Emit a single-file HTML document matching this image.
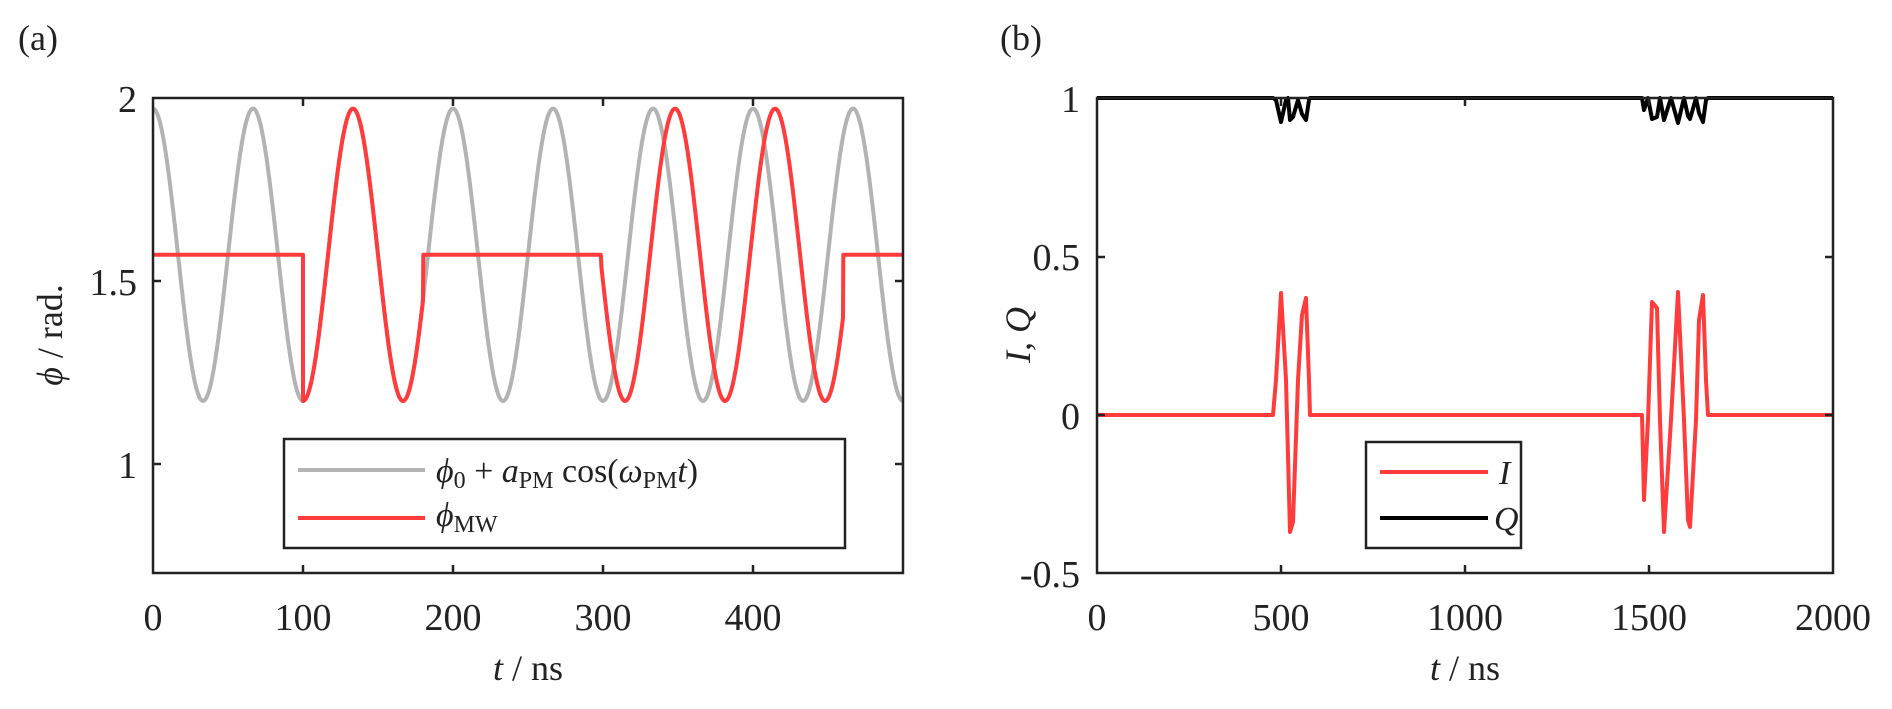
<!DOCTYPE html>
<html><head><meta charset="utf-8"><style>
html,body{margin:0;padding:0;background:#fff;}
svg{display:block;}
text{font-family:"Liberation Serif",serif;fill:#222;}
</style></head><body>
<svg id="s" width="1892" height="709" viewBox="0 0 1892 709" xmlns="http://www.w3.org/2000/svg">
<text x="18" y="50" font-size="36">(a)</text>
<text x="1000" y="50" font-size="36">(b)</text>

<!-- Panel a -->
<g id="pa"></g>
<g stroke="#222" stroke-width="2.5" fill="none">
<rect x="153" y="98" width="750" height="475"/>
<path d="M303,573v-8M453,573v-8M603,573v-8M753,573v-8M303,98v8M453,98v8M603,98v8M753,98v8
M153,464h8M153,281h8M903,464h-8M903,281h-8"/>
</g>
<g font-size="38" text-anchor="end">
<text x="137" y="112">2</text><text x="137" y="295">1.5</text><text x="137" y="478">1</text>
</g>
<g font-size="38" text-anchor="middle">
<text x="153" y="630">0</text><text x="303" y="630">100</text><text x="453" y="630">200</text><text x="603" y="630">300</text><text x="753" y="630">400</text>
</g>
<text x="528" y="680" font-size="36" text-anchor="middle"><tspan font-style="italic">t</tspan> / ns</text>
<text transform="translate(62,335) rotate(-90)" font-size="36" text-anchor="middle"><tspan font-style="italic">ϕ</tspan> / rad.</text>
<rect x="284" y="439" width="561" height="109" fill="#fff" stroke="#222" stroke-width="2.5"/>
<line x1="298" y1="470" x2="425" y2="470" stroke="#b3b3b3" stroke-width="4"/>
<line x1="298" y1="518" x2="425" y2="518" stroke="#ff3b3b" stroke-width="4"/>
<text x="436" y="482" font-size="34"><tspan font-style="italic">ϕ</tspan><tspan font-size="24" dy="6">0</tspan><tspan dy="-6"> + </tspan><tspan font-style="italic">a</tspan><tspan font-size="24" dy="6">PM</tspan><tspan dy="-6"> cos(</tspan><tspan font-style="italic">ω</tspan><tspan font-size="24" dy="6">PM</tspan><tspan dy="-6" font-style="italic">t</tspan>)</text>
<text x="436" y="526" font-size="34"><tspan font-style="italic">ϕ</tspan><tspan font-size="24" dy="6">MW</tspan></text>

<!-- Panel b -->
<g fill="none" stroke-width="4" stroke-linejoin="round">
<polyline stroke="#ff3b3b" points="1097,415 1273,415 1276,380 1281,293 1286,380 1290,532 1293,522 1298,380 1302,315 1306,298 1309,380 1310,415 1642,415 1644,500 1648,420 1652,302 1657,308 1660,420 1664,532 1671,420 1678,292 1684,420 1688,520 1690,527 1696,420 1699,320 1703,295 1706,380 1708,415 1833,415"/>
<polyline stroke="#000" points="1097,98 1273,98 1276,100 1281,122 1286,100 1288,98 1290,120 1293,117 1298,100 1302,114 1306,120 1309,100 1310,98 1642,98 1644,110 1648,98 1652,119 1657,117 1660,98 1664,120 1671,98 1678,123 1684,98 1688,116 1690,119 1696,98 1699,113 1703,122 1706,100 1708,98 1833,98"/>
</g>
<g stroke="#222" stroke-width="2.5" fill="none">
<rect x="1097" y="98" width="736" height="475"/>
<path d="M1281,573v-8M1465,573v-8M1649,573v-8M1281,98v8M1465,98v8M1649,98v8
M1097,415h8M1097,257h8M1833,415h-8M1833,257h-8"/>
</g>
<g font-size="38" text-anchor="end">
<text x="1080" y="112">1</text><text x="1080" y="270">0.5</text><text x="1080" y="429">0</text><text x="1080" y="587">-0.5</text>
</g>
<g font-size="38" text-anchor="middle">
<text x="1097" y="630">0</text><text x="1281" y="630">500</text><text x="1465" y="630">1000</text><text x="1649" y="630">1500</text><text x="1833" y="630">2000</text>
</g>
<text x="1465" y="680" font-size="36" text-anchor="middle"><tspan font-style="italic">t</tspan> / ns</text>
<text transform="translate(1030,335) rotate(-90)" font-size="36" text-anchor="middle" font-style="italic">I, Q</text>
<rect x="1366" y="442" width="155" height="106" fill="#fff" stroke="#222" stroke-width="2.5"/>
<line x1="1380" y1="472" x2="1488" y2="472" stroke="#ff3b3b" stroke-width="4"/>
<line x1="1380" y1="518" x2="1488" y2="518" stroke="#000" stroke-width="4"/>
<text x="1499" y="484" font-size="34" font-style="italic">I</text>
<text x="1494" y="530" font-size="34" font-style="italic">Q</text>
</svg>
<script>
(function(){
var X=function(t){return 153+1.5*t;},Y=function(v){return 573-(v-0.7)*365.4;};
var w=2*Math.PI/66.667,p0=Math.PI/2,a=0.4,g=[],r=[];
for(var t=0;t<=500;t+=0.5){g.push(X(t).toFixed(1)+','+Y(p0+a*Math.cos(w*t)).toFixed(1));}
function red(t){
 if(t<100)return p0;
 if(t<=180)return p0-a*Math.cos(w*(t-100));
 if(t<299)return p0;
 if(t<=460)return p0-a*Math.cos(w*(t-314.7));
 return p0;}
for(var t=0;t<=500;t+=0.5){
 if(Math.abs(t-100)<0.01)r.push(X(100)+','+Y(p0).toFixed(1));
 if(Math.abs(t-180.5)<0.01)r.push(X(180.2)+','+Y(p0).toFixed(1));
 if(Math.abs(t-460.5)<0.01)r.push(X(460.2)+','+Y(p0).toFixed(1));
 r.push(X(t).toFixed(1)+','+Y(red(t)).toFixed(1));}
var ns='http://www.w3.org/2000/svg',G=document.getElementById('pa');
function pl(pts,c){var e=document.createElementNS(ns,'polyline');e.setAttribute('points',pts.join(' '));e.setAttribute('fill','none');e.setAttribute('stroke',c);e.setAttribute('stroke-width','4');e.setAttribute('stroke-linejoin','round');G.appendChild(e);}
pl(g,'#b3b3b3');pl(r,'#ff3b3b');
})();
</script>
</body></html>
